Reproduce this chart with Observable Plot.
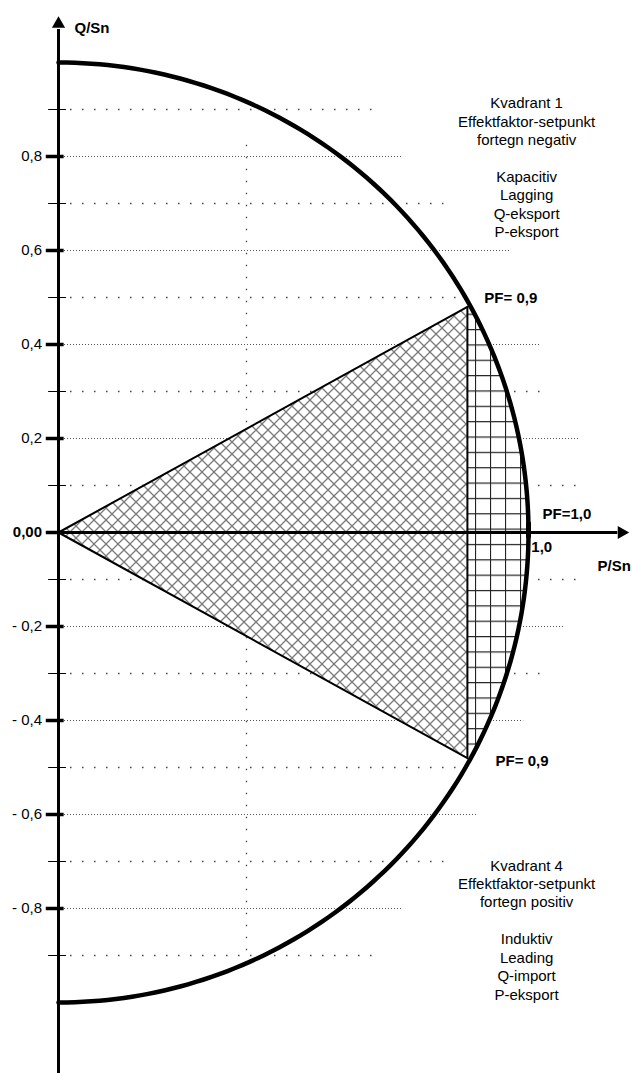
<!DOCTYPE html>
<html><head><meta charset="utf-8">
<script src="https://cdn.jsdelivr.net/npm/d3@7"></script>
<script src="https://cdn.jsdelivr.net/npm/@observablehq/plot@0.6"></script>
<style>body{margin:0;background:#fff} svg{display:block}</style>
</head><body><div id="chart"></div>
<script>
// ---- data ----
const majorTicks  = [0.8, 0.6, 0.4, 0.2, -0.2, -0.4, -0.6, -0.8];
const majorLabels = ["0,8", "0,6", "0,4", "0,2", "- 0,2", "- 0,4", "- 0,6", "- 0,8"];
const majorGridEnd = [0.73, 0.96, 1.026, 1.11, 1.075, 0.99, 0.89, 0.73];
const minorTicks  = [0.9, 0.7, 0.5, 0.3, 0.1, -0.1, -0.3, -0.5, -0.7, -0.9];
const minorGridEnd = [0.674, 0.82, 0.86, 1.04, 1.117, 1.12, 1.04, 0.88, 0.82, 0.67];
const verticalGrid = [0.4];
const circleRadius = 1;
const pfPoints = [{p: 0.87, q: 0.48}, {p: 0.87, q: -0.48}];
const originLabel = "0,00";
const axisLabels = [
  {p: 0.034, q: 1.072, text: "Q/Sn"},
  {p: 1.147, q: -0.072, text: "P/Sn"}
];
const pfLabels = [
  {p: 0.906, q: 0.498, text: "PF= 0,9"},
  {p: 0.93, q: -0.487, text: "PF= 0,9"},
  {p: 1.03, q: 0.04, text: "PF=1,0"},
  {p: 1.006, q: -0.032, text: "1,0"}
];
const quadrantTexts = [
  {p: 0.996, q: 0.778, text: "Kvadrant 1\nEffektfaktor-setpunkt\nfortegn negativ\n\nKapacitiv\nLagging\nQ-eksport\nP-eksport"},
  {p: 0.996, q: -0.844, text: "Kvadrant 4\nEffektfaktor-setpunkt\nfortegn positiv\n\nInduktiv\nLeading\nQ-import\nP-eksport"}
];
const axisQEnd = 1.07, axisQBottom = -1.16, axisPEnd = 1.19;

// ---- derived shapes ----
const arc = d3.range(90, -90.5, -1).map(a => ({
  p: circleRadius * Math.cos(a * Math.PI / 180),
  q: circleRadius * Math.sin(a * Math.PI / 180)
}));
const pfP = pfPoints[0].p, pfQ = pfPoints[0].q;
const triangle = [{p: 0, lo: 0, hi: 0}, {p: pfP, lo: pfPoints[1].q, hi: pfQ}];
const capRegion = d3.range(pfPoints[1].q, pfQ + 0.0001, 0.01).map(q => ({
  q, x1: pfP, x2: Math.max(pfP, Math.sqrt(circleRadius * circleRadius - q * q))
}));
const triEdges = [pfPoints[0], {p: 0, q: 0}, pfPoints[1]];

const font = "Liberation Sans, Arial, Helvetica, sans-serif";

const chart = Plot.plot({
  width: 632, height: 1073,
  margin: 0,
  x: {domain: [-58 / 470, 574 / 470], axis: null},
  y: {domain: [(532 - 1073) / 470, 532 / 470], axis: null},
  style: {fontFamily: font, fontSize: "15px", background: "white", color: "black"},
  marks: [
    // dotted grid
    Plot.ruleY(majorTicks, {y: d => d, x1: 0, x2: (d, i) => majorGridEnd[i], stroke: "#555", strokeWidth: 1, strokeDasharray: "1 2"}),
    Plot.ruleY(minorTicks, {y: d => d, x1: 0, x2: (d, i) => minorGridEnd[i], stroke: "#444", strokeWidth: 1.3, strokeDasharray: "1.5 10.5"}),
    Plot.ruleX(verticalGrid, {x: d => d, y1: -0.89, y2: 0.83, stroke: "#444", strokeWidth: 1.3, strokeDasharray: "1.5 10.5"}),
    // hatched areas
    Plot.areaY(triangle, {x: "p", y1: "lo", y2: "hi", fill: "url(#xhatch)", curve: "linear"}),
    Plot.areaX(capRegion, {y: "q", x1: "x1", x2: "x2", fill: "url(#sqgrid)", curve: "linear"}),
    // triangle edges
    Plot.line(triEdges, {x: "p", y: "q", stroke: "black", strokeWidth: 2}),
    Plot.ruleX([pfP], {x: d => d, y1: pfPoints[1].q, y2: pfQ, stroke: "black", strokeWidth: 2}),
    // circle arc
    Plot.line(arc, {x: "p", y: "q", stroke: "black", strokeWidth: 4.5}),
    // axes
    Plot.ruleX([0], {x: d => d, y1: axisQBottom, y2: axisQEnd, stroke: "black", strokeWidth: 3}),
    Plot.ruleY([0], {y: d => d, x1: 0, x2: axisPEnd, stroke: "black", strokeWidth: 3}),
    Plot.dot([{p: 0, q: 1.082}], {x: "p", y: "q", symbol: "triangle", r: 4.9, fill: "black", stroke: "none"}),
    Plot.dot([{p: 1.198, q: 0}], {x: "p", y: "q", symbol: "triangle", r: 4.9, rotate: 90, fill: "black", stroke: "none"}),
    // ticks
    Plot.ruleY(majorTicks, {y: d => d, x1: -0.026, x2: 0.012, stroke: "black", strokeWidth: 3.5}),
    Plot.ruleY([0], {y: d => d, x1: -0.026, x2: 0, stroke: "black", strokeWidth: 3.5}),
    Plot.ruleY(minorTicks, {y: d => d, x1: -0.021, x2: 0.017, stroke: "black", strokeWidth: 1}),
    Plot.ruleX([circleRadius], {x: d => d, y1: -0.012, y2: 0.021, stroke: "black", strokeWidth: 5}),
    // tick labels
    Plot.text(majorTicks, {x: -0.035, y: d => d, text: (d, i) => majorLabels[i], textAnchor: "end", fontSize: 15, fill: "black"}),
    Plot.text([0], {x: -0.035, y: d => d, text: () => originLabel, textAnchor: "end", fontSize: 15, fontWeight: "bold", fill: "black"}),
    // axis titles & PF labels
    Plot.text(axisLabels, {x: "p", y: "q", text: "text", textAnchor: "start", fontSize: 15, fontWeight: "bold", fill: "black"}),
    Plot.text(pfLabels, {x: "p", y: "q", text: "text", textAnchor: "start", fontSize: 15, fontWeight: "bold", fill: "black"}),
    // quadrant texts
    Plot.text(quadrantTexts, {x: "p", y: "q", text: "text", textAnchor: "middle", fontSize: 15, lineHeight: 1.23, fill: "black"})
  ]
});

const defs = `<defs>
<pattern id="xhatch" patternUnits="userSpaceOnUse" x="58" y="532" width="12" height="12">
  <rect width="12" height="12" fill="white"/>
  <path d="M-3,-3 L15,15 M15,-3 L-3,15" stroke="#7a7a7a" stroke-width="1.3" fill="none"/>
</pattern>
<pattern id="sqgrid" patternUnits="userSpaceOnUse" x="475" y="329" width="15" height="15.35">
  <rect width="15" height="15.35" fill="white"/>
  <path d="M0.5,0 L0.5,15.35 M0,0.5 L15,0.5" stroke="#222" stroke-width="1.2" fill="none"/>
</pattern>
</defs>`;
chart.insertAdjacentHTML("afterbegin", defs);
document.getElementById("chart").appendChild(chart);
</script>
</body></html>
